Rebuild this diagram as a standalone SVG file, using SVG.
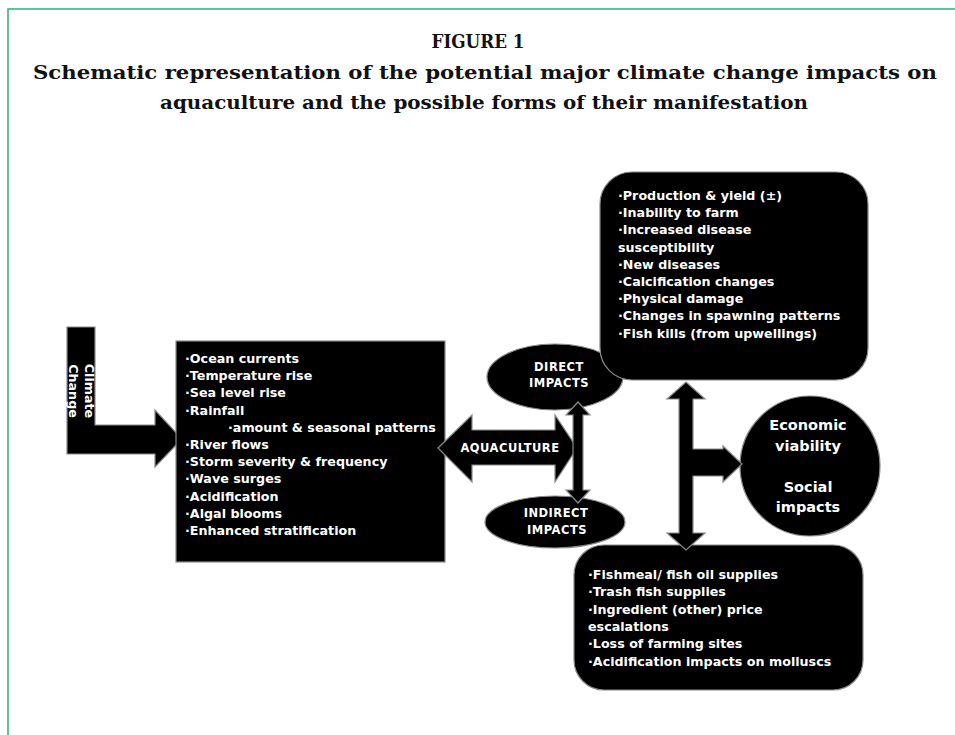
<svg xmlns="http://www.w3.org/2000/svg" width="955" height="735" viewBox="0 0 955 735">
<style>
.title{font-family:"DejaVu Serif","Liberation Serif",serif;font-weight:bold;font-size:18px;fill:#111}
.shape{fill:#000;stroke:#8a8a8a;stroke-width:1.2}
.t{font-family:"DejaVu Sans","Liberation Sans",sans-serif;font-weight:bold;font-size:12.7px;fill:#fff}
.lab{font-family:"DejaVu Sans","Liberation Sans",sans-serif;font-weight:bold;font-size:11.5px;fill:#fff;text-anchor:middle;letter-spacing:0.5px}
.big{font-family:"DejaVu Sans","Liberation Sans",sans-serif;font-weight:bold;font-size:14.5px;fill:#fff;text-anchor:middle}
</style>
<rect width="955" height="735" fill="#fff"/>
<path d="M8,735 V9 H955" fill="none" stroke="#2bb36b" stroke-width="1.5"/>
<g id="title">
<text class="title" x="478" y="48" text-anchor="middle" textLength="93" lengthAdjust="spacingAndGlyphs">FIGURE 1</text>
<text class="title" x="33" y="79" textLength="904" lengthAdjust="spacingAndGlyphs">Schematic representation of the potential major climate change impacts on</text>
<text class="title" x="160" y="109" textLength="648" lengthAdjust="spacingAndGlyphs">aquaculture and the possible forms of their manifestation</text>
</g>
<g id="climate-change">
<path class="shape" d="M67,327 H95 V425 H155 V410 L182,439 L155,467 V454 H67 Z"/>
<text class="t" font-size="12.5" text-anchor="middle" transform="translate(85,391) rotate(90)">Climate</text>
<text class="t" font-size="12.5" text-anchor="middle" transform="translate(69,391) rotate(90)">Change</text>
</g>
<g id="drivers">
<rect class="shape" x="176" y="341" width="269" height="221"/>
<text class="t" x="185" y="363">·Ocean currents</text>
<text class="t" x="185" y="380.2">·Temperature rise</text>
<text class="t" x="185" y="397.4">·Sea level rise</text>
<text class="t" x="185" y="414.6">·Rainfall</text>
<text class="t" x="228" y="431.8">·amount &amp; seasonal patterns</text>
<text class="t" x="185" y="449">·River flows</text>
<text class="t" x="185" y="466.2">·Storm severity &amp; frequency</text>
<text class="t" x="185" y="483.4">·Wave surges</text>
<text class="t" x="185" y="500.6">·Acidification</text>
<text class="t" x="185" y="517.8">·Algal blooms</text>
<text class="t" x="185" y="535">·Enhanced stratification</text>
</g>
<g id="aquaculture">
<path class="shape" d="M438,448 L472,415 V430 H555 V415 L577,448 L555,482 V465 H472 V482 Z"/>
<text class="lab" x="510" y="452" letter-spacing="0">AQUACULTURE</text>
</g>
<g id="direct-impacts">
<ellipse class="shape" cx="555" cy="377" rx="68" ry="33"/>
<text class="lab" x="559" y="371">DIRECT</text>
<text class="lab" x="559" y="387">IMPACTS</text>
</g>
<g id="indirect-impacts">
<ellipse class="shape" cx="555" cy="522" rx="70" ry="26"/>
<text class="lab" x="556" y="517">INDIRECT</text>
<text class="lab" x="557" y="534">IMPACTS</text>
</g>
<g id="direct-effects">
<rect class="shape" x="600" y="172" width="268" height="208" rx="32" ry="32"/>
<text class="t" x="618" y="200">·Production &amp; yield (±)</text>
<text class="t" x="618" y="217.2">·Inability to farm</text>
<text class="t" x="618" y="234.4">·Increased disease</text>
<text class="t" x="618" y="251.6">susceptibility</text>
<text class="t" x="618" y="268.8">·New diseases</text>
<text class="t" x="618" y="286">·Calcification changes</text>
<text class="t" x="618" y="303.2">·Physical damage</text>
<text class="t" x="618" y="320.4">·Changes in spawning patterns</text>
<text class="t" x="618" y="337.6">·Fish kills (from upwellings)</text>
</g>
<g id="indirect-effects">
<rect class="shape" x="574" y="545" width="289" height="145" rx="30" ry="30"/>
<text class="t" x="588" y="579">·Fishmeal/ fish oil supplies</text>
<text class="t" x="588" y="596.3">·Trash fish supplies</text>
<text class="t" x="588" y="613.6">·Ingredient (other) price</text>
<text class="t" x="588" y="630.9">escalations</text>
<text class="t" x="588" y="648.2">·Loss of farming sites</text>
<text class="t" x="588" y="665.5">·Acidification impacts on molluscs</text>
</g>
<g id="outcomes">
<circle class="shape" cx="810" cy="466" r="70"/>
<text class="big" x="808" y="430">Economic</text>
<text class="big" x="808" y="451">viability</text>
<text class="big" x="808" y="492">Social</text>
<text class="big" x="808" y="512">impacts</text>
</g>
<g id="connectors">
<path class="shape" d="M578,402 L590,415 H583 V490 H590 L578,503 L566,490 H573 V415 H566 Z"/>
<path class="shape" d="M686,382 L705,399 H693 V449 H723 V446 L742,464 L723,482 V476 H693 V533 H705 L686,550 L667,533 H679 V399 H667 Z"/>
</g>
</svg>
